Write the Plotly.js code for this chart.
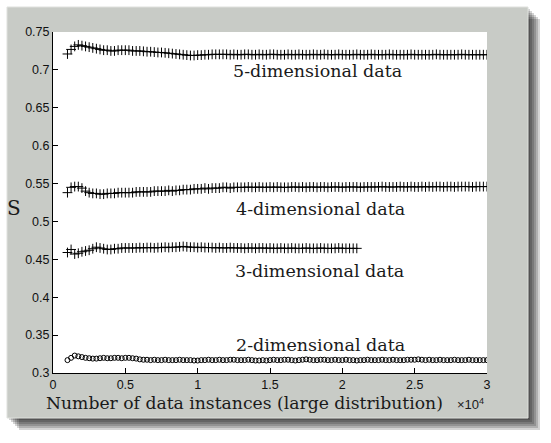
<!DOCTYPE html>
<html>
<head>
<meta charset="utf-8">
<script src="https://cdn.plot.ly/plotly-3.0.1.min.js"></script>
<style>
  body { margin: 0; background: #ffffff; }
  #chart { width: 551px; height: 443px; }
</style>
</head>
<body>
<div id="chart"></div>
<script>
// number of data instances: first sample and step between samples
let x_start = 1000;
let x_step = 250;

// S values, one per sample
let s_5dim = [
  0.721, 0.727, 0.731, 0.733, 0.732, 0.731, 0.730, 0.729, 0.728, 0.727,
  0.726, 0.726, 0.725, 0.725, 0.726, 0.726, 0.726, 0.726, 0.725, 0.725,
  0.725, 0.7245, 0.724, 0.724, 0.7235, 0.723, 0.723, 0.7225, 0.722, 0.7215,
  0.721, 0.7205, 0.720, 0.7195, 0.719, 0.719, 0.7195, 0.7195, 0.720, 0.720,
  0.7205, 0.7205, 0.7205, 0.7205, 0.7205, 0.720, 0.7205, 0.720, 0.720, 0.7205,
  0.7205, 0.720, 0.720, 0.7205, 0.720, 0.720, 0.7205, 0.7205, 0.720, 0.720,
  0.720, 0.7205, 0.720, 0.720, 0.7205, 0.720, 0.720, 0.720, 0.7205, 0.720,
  0.720, 0.7205, 0.720, 0.720, 0.720, 0.7205, 0.720, 0.720, 0.720, 0.720,
  0.7205, 0.720, 0.720, 0.720, 0.7205, 0.720, 0.720, 0.720, 0.720, 0.7205,
  0.720, 0.720, 0.720, 0.720, 0.720, 0.7205, 0.720, 0.720, 0.720, 0.720,
  0.720, 0.720, 0.7205, 0.720, 0.720, 0.720, 0.720, 0.720, 0.720, 0.7205,
  0.720, 0.720, 0.720, 0.720, 0.720, 0.720, 0.720
];

let s_4dim = [
  0.538, 0.545, 0.546, 0.546, 0.544, 0.540, 0.538, 0.537, 0.537, 0.536,
  0.536, 0.537, 0.537, 0.537, 0.538, 0.538, 0.538, 0.538, 0.538, 0.539,
  0.539, 0.539, 0.539, 0.539, 0.540, 0.540, 0.540, 0.540, 0.541, 0.540,
  0.541, 0.541, 0.542, 0.542, 0.542, 0.543, 0.543, 0.543, 0.544, 0.543,
  0.544, 0.544, 0.544, 0.545, 0.545, 0.544, 0.545, 0.545, 0.545, 0.545,
  0.5455, 0.545, 0.545, 0.5455, 0.545, 0.545, 0.5455, 0.545, 0.5455, 0.545,
  0.545, 0.545, 0.5455, 0.5455, 0.545, 0.5455, 0.545, 0.5455, 0.5455, 0.545,
  0.5455, 0.5455, 0.545, 0.5455, 0.5455, 0.5455, 0.545, 0.5455, 0.5455, 0.5455,
  0.5455, 0.545, 0.5455, 0.5455, 0.5455, 0.5455, 0.5455, 0.546, 0.5455, 0.5455,
  0.5455, 0.5455, 0.546, 0.5455, 0.5455, 0.546, 0.5455, 0.5455, 0.546, 0.5455,
  0.546, 0.5455, 0.546, 0.546, 0.5455, 0.546, 0.546, 0.5455, 0.546, 0.546,
  0.546, 0.546, 0.5455, 0.546, 0.546, 0.546, 0.546
];

let s_3dim = [
  0.459, 0.463, 0.457, 0.458, 0.460, 0.461, 0.462, 0.464, 0.466, 0.465,
  0.464, 0.463, 0.463, 0.464, 0.464, 0.465, 0.465, 0.465, 0.465, 0.465,
  0.4655, 0.465, 0.4655, 0.4655, 0.465, 0.4655, 0.4655, 0.466, 0.4655, 0.466,
  0.466, 0.4665, 0.467, 0.4665, 0.466, 0.466, 0.4655, 0.466, 0.4655, 0.4655,
  0.4655, 0.465, 0.4655, 0.465, 0.465, 0.4655, 0.465, 0.465, 0.465, 0.4645,
  0.465, 0.465, 0.4645, 0.465, 0.465, 0.4645, 0.465, 0.4645, 0.4645, 0.465,
  0.4645, 0.4645, 0.465, 0.4645, 0.4645, 0.4645, 0.465, 0.4645, 0.4645, 0.4645,
  0.465, 0.4645, 0.4645, 0.4645, 0.4645, 0.465, 0.4645, 0.4645, 0.4645, 0.4645,
  0.4645
];

let s_2dim = [
  0.317, 0.320, 0.323, 0.322, 0.321, 0.320, 0.3195, 0.319, 0.319, 0.3195,
  0.320, 0.3195, 0.3195, 0.320, 0.320, 0.3195, 0.320, 0.320, 0.3195, 0.319,
  0.318, 0.3175, 0.3175, 0.317, 0.3175, 0.317, 0.317, 0.3175, 0.317, 0.317,
  0.317, 0.3175, 0.317, 0.317, 0.317, 0.3165, 0.3165, 0.317, 0.317, 0.3175,
  0.317, 0.317, 0.3175, 0.317, 0.317, 0.3175, 0.3175, 0.317, 0.317, 0.317,
  0.3175, 0.317, 0.3165, 0.3165, 0.317, 0.3165, 0.317, 0.3175, 0.317, 0.317,
  0.3175, 0.3175, 0.317, 0.3165, 0.317, 0.3175, 0.318, 0.3175, 0.317, 0.317,
  0.3175, 0.3175, 0.317, 0.317, 0.3175, 0.317, 0.317, 0.3175, 0.317, 0.317,
  0.3165, 0.317, 0.317, 0.3175, 0.317, 0.317, 0.317, 0.3175, 0.317, 0.317,
  0.3175, 0.317, 0.317, 0.317, 0.3175, 0.3175, 0.3175, 0.318, 0.3175, 0.317,
  0.3175, 0.317, 0.317, 0.3175, 0.317, 0.317, 0.317, 0.3175, 0.317, 0.317,
  0.317, 0.3175, 0.317, 0.317, 0.317, 0.317, 0.317
];

let series_labels = ["5-dimensional data", "4-dimensional data", "3-dimensional data", "2-dimensional data"];

let x_tickvals = [0, 5000, 10000, 15000, 20000, 25000, 30000];
let x_ticktext = ["0", "0.5", "1", "1.5", "2", "2.5", "3"];
let y_tickvals = [0.3, 0.35, 0.4, 0.45, 0.5, 0.55, 0.6, 0.65, 0.7, 0.75];
let y_ticktext = ["0.3", "0.35", "0.4", "0.45", "0.5", "0.55", "0.6", "0.65", "0.7", "0.75"];

// plot area in pixels
let L = 53, R = 487, T = 32, B = 373;
function px(x) { return (x - L) / (R - L); }
function py(y) { return (B - y) / (B - T); }

function PlusTrace(values) {
  return {
    x0: x_start, dx: x_step, y: values,
    mode: 'markers', type: 'scatter',
    marker: { symbol: 'cross-thin-open', size: 7, color: 'black', line: { color: 'black', width: 1 } },
    hoverinfo: 'skip'
  };
}

let data = [
  PlusTrace(s_5dim),
  PlusTrace(s_4dim),
  PlusTrace(s_3dim),
  {
    x0: x_start, dx: x_step, y: s_2dim,
    mode: 'markers', type: 'scatter',
    marker: { symbol: 'circle-open', size: 5, color: 'black', line: { color: 'black', width: 1 } },
    hoverinfo: 'skip'
  }
];

let shapes = [];
// soft shadow behind the grey panel
[12, 10, 8, 6, 4, 2].forEach(function (d) {
  shapes.push({
    type: 'rect', xref: 'paper', yref: 'paper', layer: 'below',
    x0: px(7 + d), x1: px(528 + d), y0: py(418 + d), y1: py(7 + d),
    fillcolor: 'rgba(0,0,0,0.17)', line: { width: 0 }
  });
});
shapes.push({
  type: 'rect', xref: 'paper', yref: 'paper', layer: 'below',
  x0: px(7), x1: px(528), y0: py(418), y1: py(7),
  fillcolor: '#c8cbc6', line: { color: '#dfe1dd', width: 1 }
});
shapes.push({
  type: 'rect', xref: 'paper', yref: 'paper', layer: 'below',
  x0: 0, x1: 1, y0: 0, y1: 1,
  fillcolor: '#ffffff', line: { width: 0 }
});

let serif = { family: 'DejaVu Serif', size: 17.5, color: '#1a1a1a' };
let label_x = [18300, 18500, 18400, 18500];
let label_y = [0.698, 0.516, 0.434, 0.337];

let annotations = series_labels.map(function (txt, i) {
  return {
    text: txt, x: label_x[i], y: label_y[i], xref: 'x', yref: 'y',
    showarrow: false, font: serif, xanchor: 'center', yanchor: 'middle'
  };
});
annotations.push({
  text: 'Number of data instances (large distribution)',
  xref: 'paper', yref: 'paper', x: px(244), y: py(403),
  xanchor: 'center', yanchor: 'middle', showarrow: false,
  font: { family: 'DejaVu Serif', size: 17.2, color: '#1a1a1a' }
});
annotations.push({
  text: '×10<sup>4</sup>',
  xref: 'paper', yref: 'paper', x: px(470), y: py(404),
  xanchor: 'center', yanchor: 'middle', showarrow: false,
  font: { family: 'Liberation Sans', size: 13, color: '#1a1a1a' }
});
annotations.push({
  text: 'S',
  xref: 'paper', yref: 'paper', x: px(14), y: py(208),
  xanchor: 'center', yanchor: 'middle', showarrow: false,
  font: { family: 'DejaVu Serif', size: 20, color: '#1a1a1a' }
});

let axis_common = {
  showline: true, linecolor: 'black', linewidth: 1,
  ticks: 'inside', ticklen: 5, tickcolor: 'black', tickwidth: 1,
  showgrid: false, zeroline: false, fixedrange: true,
  tickfont: { family: 'Liberation Sans', size: 12.5, color: '#111111' }
};

let layout = {
  width: 551, height: 443,
  margin: { l: L, r: 551 - R, t: T, b: 443 - B },
  paper_bgcolor: '#ffffff', plot_bgcolor: '#ffffff',
  showlegend: false,
  xaxis: Object.assign({}, axis_common, {
    range: [0, 30000], tickmode: 'array', tickvals: x_tickvals, ticktext: x_ticktext
  }),
  yaxis: Object.assign({}, axis_common, {
    range: [0.3, 0.75], tickmode: 'array', tickvals: y_tickvals, ticktext: y_ticktext
  }),
  shapes: shapes,
  annotations: annotations
};

Plotly.newPlot('chart', data, layout, { displayModeBar: false, staticPlot: true });
</script>
</body>
</html>
